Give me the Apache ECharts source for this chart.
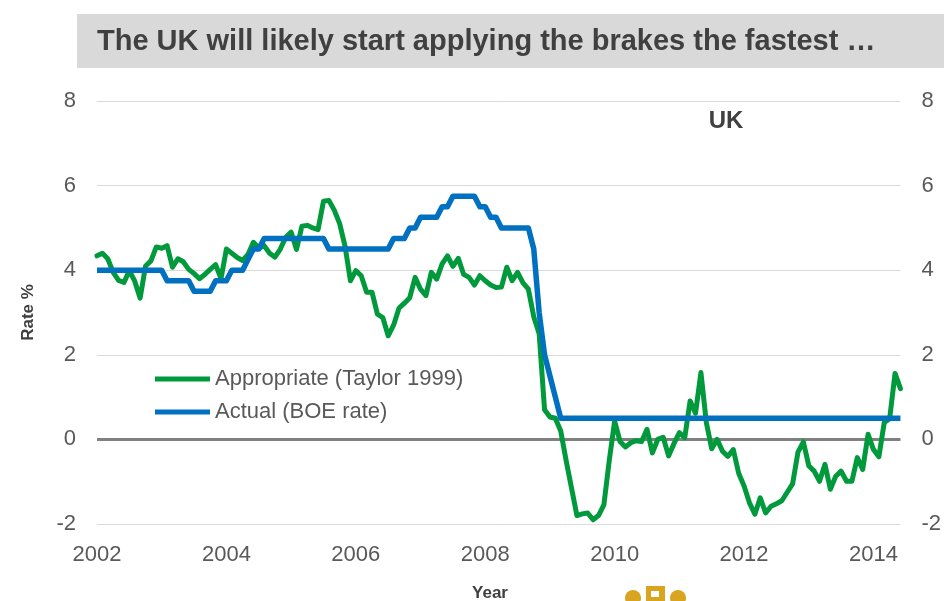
<!DOCTYPE html>
<html>
<head>
<meta charset="utf-8">
<script src="https://cdn.jsdelivr.net/npm/echarts@6/dist/echarts.min.js"></script>
<style>
  html, body { margin: 0; padding: 0; background: #ffffff; }
  #chart { width: 944px; height: 601px; }
</style>
</head>
<body>
<div id="chart"></div>
<script>
// Monthly series, January 2002 to June 2014
const startYear = 2002;

// Taylor (1999) rule rate, % (monthly)
const taylorRate = [
  4.34, 4.40, 4.27, 3.95, 3.76, 3.71, 3.99, 3.74, 3.34, 4.10, 4.22, 4.55,
  4.52, 4.58, 4.07, 4.27, 4.20, 4.02, 3.92, 3.80, 3.90, 4.02, 4.13, 3.80,
  4.50, 4.40, 4.30, 4.23, 4.37, 4.66, 4.52, 4.58, 4.40, 4.31, 4.50, 4.78,
  4.90, 4.49, 5.04, 5.06, 5.00, 4.96, 5.63, 5.65, 5.42, 5.10, 4.57, 3.75,
  3.99, 3.87, 3.48, 3.48, 2.96, 2.88, 2.45, 2.70, 3.10, 3.22, 3.35, 3.83,
  3.55, 3.40, 3.95, 3.79, 4.15, 4.34, 4.09, 4.28, 3.90, 3.83, 3.65, 3.87,
  3.75, 3.65, 3.59, 3.60, 4.07, 3.75, 3.95, 3.70, 3.55, 2.90, 2.50, 0.70,
  0.53, 0.50, 0.20, -0.50, -1.15, -1.80, -1.76, -1.74, -1.90, -1.80, -1.55, -0.50,
  0.43, -0.05, -0.18, -0.08, -0.03, -0.05, 0.24, -0.32, 0.00, 0.05, -0.39, -0.10,
  0.16, 0.04, 0.91, 0.62, 1.58, 0.40, -0.22, 0.00, -0.28, -0.40, -0.24, -0.80,
  -1.10, -1.50, -1.77, -1.38, -1.74, -1.58, -1.52, -1.45, -1.25, -1.05, -0.30, -0.06,
  -0.62, -0.75, -0.99, -0.59, -1.18, -0.87, -0.75, -0.99, -0.99, -0.43, -0.71, 0.12,
  -0.24, -0.41, 0.40, 0.49, 1.56, 1.20
];

// Bank of England base rate, % (monthly)
const boeRate = [
  4.00, 4.00, 4.00, 4.00, 4.00, 4.00, 4.00, 4.00, 4.00, 4.00, 4.00, 4.00,
  4.00, 3.75, 3.75, 3.75, 3.75, 3.75, 3.50, 3.50, 3.50, 3.50, 3.75, 3.75,
  3.75, 4.00, 4.00, 4.00, 4.25, 4.50, 4.50, 4.75, 4.75, 4.75, 4.75, 4.75,
  4.75, 4.75, 4.75, 4.75, 4.75, 4.75, 4.75, 4.50, 4.50, 4.50, 4.50, 4.50,
  4.50, 4.50, 4.50, 4.50, 4.50, 4.50, 4.50, 4.75, 4.75, 4.75, 5.00, 5.00,
  5.25, 5.25, 5.25, 5.25, 5.50, 5.50, 5.75, 5.75, 5.75, 5.75, 5.75, 5.50,
  5.50, 5.25, 5.25, 5.00, 5.00, 5.00, 5.00, 5.00, 5.00, 4.50, 3.00, 2.00,
  1.50, 1.00, 0.50, 0.50, 0.50, 0.50, 0.50, 0.50, 0.50, 0.50, 0.50, 0.50,
  0.50, 0.50, 0.50, 0.50, 0.50, 0.50, 0.50, 0.50, 0.50, 0.50, 0.50, 0.50,
  0.50, 0.50, 0.50, 0.50, 0.50, 0.50, 0.50, 0.50, 0.50, 0.50, 0.50, 0.50,
  0.50, 0.50, 0.50, 0.50, 0.50, 0.50, 0.50, 0.50, 0.50, 0.50, 0.50, 0.50,
  0.50, 0.50, 0.50, 0.50, 0.50, 0.50, 0.50, 0.50, 0.50, 0.50, 0.50, 0.50,
  0.50, 0.50, 0.50, 0.50, 0.50, 0.50
];

const seriesNames = ['Appropriate (Taylor 1999)', 'Actual (BOE rate)'];
const yTicks = { min: -2, max: 8, step: 2 };
const titleText = 'The UK will likely start applying the brakes the fastest \u2026';

// Month categories "YYYY-MM"
const months = taylorRate.map((_, i) => {
  const y = startYear + Math.floor(i / 12);
  const m = (i % 12) + 1;
  return y + '-' + (m < 10 ? '0' + m : m);
});

const FONT = '"Liberation Sans", Arial, sans-serif';
const labelGrey = '#595959';

const chart = echarts.init(document.getElementById('chart'), null, { renderer: 'canvas' });

const yAxisBase = {
  type: 'value',
  min: yTicks.min,
  max: yTicks.max,
  interval: yTicks.step,
  axisLine: { show: false },
  axisTick: { show: false },
  axisLabel: { color: labelGrey, fontSize: 22, fontFamily: FONT, margin: 21 }
};

chart.setOption({
  animation: false,
  backgroundColor: '#ffffff',
  grid: { left: 97, right: 39, top: 101, bottom: 77, containLabel: false },
  xAxis: {
    type: 'category',
    data: months,
    boundaryGap: false,
    axisLine: { show: false },
    axisTick: { show: false },
    splitLine: { show: false },
    axisLabel: {
      interval: (idx) => idx % 24 === 0,
      formatter: (v) => v.slice(0, 4),
      color: labelGrey, fontSize: 22, fontFamily: FONT, margin: 20
    }
  },
  yAxis: [
    Object.assign({}, yAxisBase, {
      position: 'left',
      name: 'Rate %',
      nameLocation: 'middle',
      nameGap: 60,
      nameRotate: 90,
      nameTextStyle: { color: '#404040', fontSize: 17, fontWeight: 'bold', fontFamily: FONT },
      splitLine: { show: true, lineStyle: { color: '#d9d9d9', width: 1 } }
    }),
    Object.assign({}, yAxisBase, {
      position: 'right',
      splitLine: { show: false }
    })
  ],
  legend: {
    orient: 'vertical',
    left: 150,
    top: 362,
    icon: 'rect',
    itemWidth: 55,
    itemHeight: 5,
    itemGap: 9,
    data: seriesNames,
    textStyle: { color: labelGrey, fontSize: 22, fontFamily: FONT, lineHeight: 24 }
  },
  series: [
    {
      name: seriesNames[0],
      type: 'line',
      data: taylorRate,
      symbol: 'none',
      z: 3,
      lineStyle: { color: '#00993c', width: 5, join: 'round', cap: 'round' },
      itemStyle: { color: '#00993c' },
      markLine: {
        silent: true,
        z: 1,
        symbol: 'none',
        label: { show: false },
        lineStyle: { color: '#808080', width: 3, type: 'solid' },
        data: [{ yAxis: 0 }]
      }
    },
    {
      name: seriesNames[1],
      type: 'line',
      data: boeRate,
      symbol: 'none',
      z: 4,
      lineStyle: { color: '#0070c0', width: 5.5, join: 'round' },
      itemStyle: { color: '#0070c0' }
    }
  ],
  graphic: [
    {
      type: 'rect',
      shape: { x: 77, y: 14, width: 867, height: 54 },
      style: { fill: '#d9d9d9' },
      z: 0
    },
    {
      type: 'text',
      x: 97, y: 42,
      style: {
        text: titleText,
        fill: '#404040',
        font: 'bold 29px ' + FONT,
        textVerticalAlign: 'middle'
      },
      z: 1
    },
    {
      type: 'text',
      x: 726, y: 121,
      style: {
        text: 'UK',
        fill: '#404040',
        font: 'bold 24px ' + FONT,
        textAlign: 'center',
        textVerticalAlign: 'middle'
      }
    },
    {
      type: 'text',
      x: 490, y: 593,
      style: {
        text: 'Year',
        fill: '#404040',
        font: 'bold 17px ' + FONT,
        textAlign: 'center',
        textVerticalAlign: 'middle'
      }
    },
    // small gold crest at the foot of the slide
    {
      type: 'group',
      children: [
        { type: 'circle', shape: { cx: 633, cy: 598, r: 8 }, style: { fill: '#d9a520' } },
        { type: 'rect', shape: { x: 646, y: 586, width: 19, height: 15 }, style: { fill: '#d9a520' } },
        { type: 'rect', shape: { x: 651, y: 591, width: 8, height: 6 }, style: { fill: '#ffffff' } },
        { type: 'circle', shape: { cx: 678, cy: 598, r: 8 }, style: { fill: '#d9a520' } }
      ]
    }
  ]
});
</script>
</body>
</html>
